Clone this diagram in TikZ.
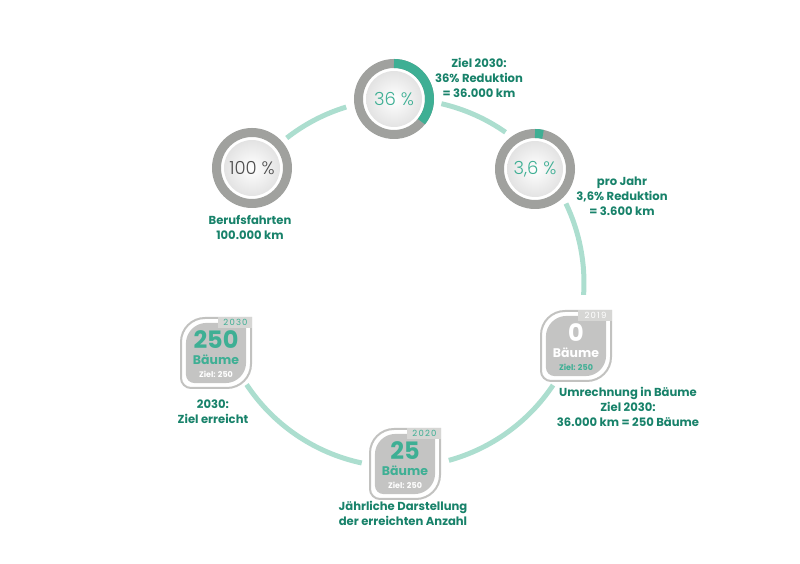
\documentclass[tikz,border=0pt]{standalone}
\usepackage{fontspec}
\setmainfont{Poppins}
\newfontfamily\duenn{Poppins Light}

\definecolor{dunkelgruen}{RGB}{24,130,106}
\definecolor{tuerkis}{RGB}{62,175,148}
\definecolor{mint}{RGB}{172,222,207}
\definecolor{ringgrau}{RGB}{160,161,158}
\definecolor{blattgrau}{RGB}{196,196,195}
\definecolor{randgrau}{RGB}{194,194,192}
\definecolor{reitergrau}{RGB}{214,214,212}
\definecolor{textgrau}{RGB}{78,78,78}

\tikzstyle{ring}=[circle,minimum size=71pt,inner sep=0pt,draw=ringgrau,line width=9pt,
  font=\duenn\fontsize{18}{18}\selectfont,
  path picture={\shade[inner color=white,outer color=black!14] (path picture bounding box.center) circle[radius=28pt];}]
\tikzstyle{fortschritt}=[draw=tuerkis,line width=9pt]
\tikzstyle{verbindung}=[draw=mint,line width=5pt]
\tikzstyle{beschriftung}=[align=center,text=dunkelgruen,font=\bfseries\fontsize{11.6}{15}\selectfont]
\tikzstyle{blattform}=[insert path={(-35,-25) -- (-35,11) arc[start angle=180,end angle=90,radius=24] -- (35,35) -- (35,-11) arc[start angle=0,end angle=-90,radius=24] -- (-25,-35) arc[start angle=270,end angle=180,radius=10] -- cycle}]
\tikzstyle{blattrand}=[draw=randgrau,line width=2pt]
\tikzstyle{blattfill}=[fill=blattgrau]
\tikzstyle{reiter}=[fill=reitergrau]
\tikzstyle{jahr}=[inner sep=0pt,font=\fontsize{8.5}{8.5}\selectfont\addfontfeature{LetterSpace=14}]
\tikzstyle{zahl}=[inner sep=0pt,font=\bfseries\fontsize{24}{24}\selectfont]
\tikzstyle{baeume}=[inner sep=0pt,font=\bfseries\fontsize{12.5}{12.5}\selectfont]
\tikzstyle{ziel}=[inner sep=0pt,font=\bfseries\fontsize{8}{8}\selectfont]

\newcommand{\baumblatt}[7]{%
  \coordinate (#1) at (#2);
  \draw[blattrand,shift={(#1)},blattform];
  \fill[blattfill,shift={(#1)},scale=0.86,blattform];
  \fill[reiter,shift={(#1)}] (2,25) rectangle (36,36);
  \node[jahr,text=#7] (#1-jahr) at ([shift={(19.5,30.5)}]#1) {#4};
  \node[zahl,text=#5] (#1-zahl) at ([yshift=13.5pt]#1) {#3};
  \node[baeume,text=#5] (#1-baeume) at ([yshift=-7pt]#1) {Bäume};
  \node[ziel,text=#6] (#1-ziel) at ([yshift=-21pt]#1) {Ziel: 250};
}

\begin{document}
\begin{tikzpicture}[x=1pt,y=1pt]
  \useasboundingbox (0,0) rectangle (800,564);
  \coordinate (mitte) at (400,281);

  % Kreis zwischen den Stationen
  \draw[verbindung] (mitte) ++(128:184) arc[start angle=128,end angle=107,radius=184];
  \draw[verbindung] (mitte) ++(77:184) arc[start angle=77,end angle=55,radius=184];
  \draw[verbindung] (mitte) ++(25.6:184) arc[start angle=25.6,end angle=-3.7,radius=184];
  \draw[verbindung] (mitte) ++(-33.7:184) arc[start angle=-33.7,end angle=-74.6,radius=184];
  \draw[verbindung] (mitte) ++(-102:184) arc[start angle=-102,end angle=-146.5,radius=184];

  % Ringe
  \node[ring,text=textgrau] (p100) at (252,396) {100 \%};
  \node[ring,text=tuerkis] (p36) at (394,465) {36 \%};
  \node[ring,text=tuerkis] (p3) at (535,395) {3,6 \%};
  \draw[fortschritt] (p36.center) ++(90:35.5) arc[start angle=90,end angle=-39.6,radius=35.5];
  \draw[fortschritt] (p3.center) ++(90:35.5) arc[start angle=90,end angle=77,radius=35.5];

  % Bäume
  \baumblatt{b2019}{576,218}{0}{2019}{white}{tuerkis}{white}
  \baumblatt{b2020}{405,100}{25}{2020}{tuerkis}{white}{tuerkis}
  \baumblatt{b2030}{216,211}{250}{2030}{tuerkis}{white}{tuerkis}

  % Texte
  \node[beschriftung] (t100) at (250,336) {Berufsfahrten\\100.000 km};
  \node[beschriftung] (t36) at (479,486) {Ziel 2030:\\36\% Reduktion\\= 36.000 km};
  \node[beschriftung] (t3) at (622,368) {pro Jahr\\3,6\% Reduktion\\= 3.600 km};
  \node[beschriftung] (t2019) at (628,157) {Umrechnung in Bäume\\Ziel 2030:\\36.000 km = 250 Bäume};
  \node[beschriftung] (t2020) at (403,51) {Jährliche Darstellung\\der erreichten Anzahl};
  \node[beschriftung] (t2030) at (213,152) {2030:\\Ziel erreicht};
\end{tikzpicture}
\end{document}
